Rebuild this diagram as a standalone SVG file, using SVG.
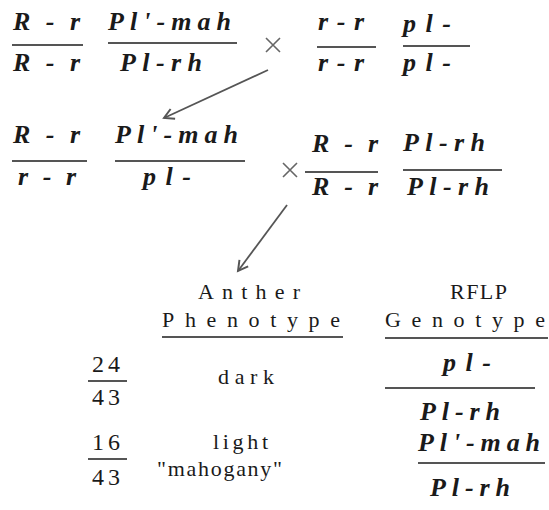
<svg xmlns="http://www.w3.org/2000/svg" width="549" height="510" viewBox="0 0 549 510">
<defs>
<style>
.g{font-family:"Liberation Serif","DejaVu Serif",serif;font-style:italic;font-weight:bold;font-size:26px;fill:#1a1a1a}
.h{font-family:"Liberation Serif","DejaVu Serif",serif;font-size:22px;fill:#1a1a1a}
.n{font-family:"Liberation Serif","DejaVu Serif",serif;font-size:24px;fill:#1a1a1a}
.bar{stroke:#555;stroke-width:2;fill:none}
.x{stroke:#666;stroke-width:1.6;fill:none}
.conn{stroke:#555;stroke-width:1.8;fill:none}
</style>
<marker id="ah" viewBox="0 0 12 12" refX="10" refY="6" markerWidth="13" markerHeight="13" markerUnits="userSpaceOnUse" orient="auto">
<path d="M1,1 L10,6 L1,11" fill="none" stroke="#555" stroke-width="1.8"/>
</marker>
</defs>
<rect width="549" height="510" fill="#fff"/>
<g id="parent1">
<text class="g" x="13" y="30" textLength="67" lengthAdjust="spacing">R - r</text>
<line class="bar" x1="12" y1="45" x2="83" y2="45"/>
<text class="g" x="13" y="71" textLength="67" lengthAdjust="spacing">R - r</text>
<text class="g" x="108" y="30" textLength="123" lengthAdjust="spacing">Pl'-mah</text>
<line class="bar" x1="108" y1="43" x2="237" y2="43"/>
<text class="g" x="120" y="71" textLength="82" lengthAdjust="spacing">Pl-rh</text>
</g>
<g id="cross1"><path class="x" d="M266,38 L280,52 M280,38 L266,52"/></g>
<g id="parent2">
<text class="g" x="318" y="30" textLength="46" lengthAdjust="spacing">r - r</text>
<line class="bar" x1="317" y1="47" x2="376" y2="47"/>
<text class="g" x="318" y="71" textLength="46" lengthAdjust="spacing">r - r</text>
<text class="g" x="403" y="32" textLength="48" lengthAdjust="spacing">p l -</text>
<line class="bar" x1="403" y1="46" x2="470" y2="46"/>
<text class="g" x="403" y="71" textLength="48" lengthAdjust="spacing">p l -</text>
</g>
<g id="f1">
<text class="g" x="13" y="143" textLength="67" lengthAdjust="spacing">R - r</text>
<line class="bar" x1="12" y1="161" x2="87" y2="161"/>
<text class="g" x="18" y="185" textLength="58" lengthAdjust="spacing">r - r</text>
<text class="g" x="115" y="143" textLength="123" lengthAdjust="spacing">Pl'-mah</text>
<line class="bar" x1="115" y1="161" x2="245" y2="161"/>
<text class="g" x="143" y="185" textLength="48" lengthAdjust="spacing">p l -</text>
</g>
<g id="cross2"><path class="x" d="M283,163 L297,177 M297,163 L283,177"/></g>
<g id="parent3">
<text class="g" x="312" y="152" textLength="66" lengthAdjust="spacing">R - r</text>
<line class="bar" x1="305" y1="172" x2="378" y2="172"/>
<text class="g" x="312" y="195" textLength="66" lengthAdjust="spacing">R - r</text>
<text class="g" x="403" y="151" textLength="82" lengthAdjust="spacing">Pl-rh</text>
<line class="bar" x1="403" y1="170" x2="502" y2="170"/>
<text class="g" x="407" y="195" textLength="82" lengthAdjust="spacing">Pl-rh</text>
</g>
<g id="connectors">
<line class="conn" x1="268" y1="70" x2="164" y2="118" marker-end="url(#ah)"/>
<line class="conn" x1="287" y1="205" x2="238" y2="271" marker-end="url(#ah)"/>
</g>
<g id="header-phenotype">
<text class="h" x="198" y="299" textLength="102" lengthAdjust="spacing">Anther</text>
<text class="h" x="162" y="327" textLength="178" lengthAdjust="spacing">Phenotype</text>
<line class="bar" x1="162" y1="337" x2="343" y2="337"/>
</g>
<g id="header-genotype">
<text class="h" x="450" y="299" textLength="57" lengthAdjust="spacing">RFLP</text>
<text class="h" x="385" y="327" textLength="160" lengthAdjust="spacing">Genotype</text>
<line class="bar" x1="385" y1="338" x2="548" y2="338"/>
</g>
<g id="row1">
<text class="n" x="92" y="372" textLength="28" lengthAdjust="spacing">24</text>
<line class="bar" x1="88" y1="381" x2="127" y2="381"/>
<text class="n" x="92" y="405" textLength="28" lengthAdjust="spacing">43</text>
<text class="h" x="218" y="384" textLength="56" lengthAdjust="spacing">dark</text>
<text class="g" x="443" y="371" textLength="48" lengthAdjust="spacing">p l -</text>
<line class="bar" x1="385" y1="388" x2="535" y2="388"/>
<text class="g" x="420" y="420" textLength="80" lengthAdjust="spacing">Pl-rh</text>
</g>
<g id="row2">
<text class="n" x="92" y="450" textLength="28" lengthAdjust="spacing">16</text>
<line class="bar" x1="88" y1="459" x2="127" y2="459"/>
<text class="n" x="92" y="485" textLength="28" lengthAdjust="spacing">43</text>
<text class="h" x="213" y="449" textLength="55" lengthAdjust="spacing">light</text>
<text class="h" x="157" y="476" textLength="125" lengthAdjust="spacing">"mahogany"</text>
<text class="g" x="418" y="451" textLength="122" lengthAdjust="spacing">Pl'-mah</text>
<line class="bar" x1="418" y1="463" x2="545" y2="463"/>
<text class="g" x="430" y="496" textLength="80" lengthAdjust="spacing">Pl-rh</text>
</g>
</svg>
